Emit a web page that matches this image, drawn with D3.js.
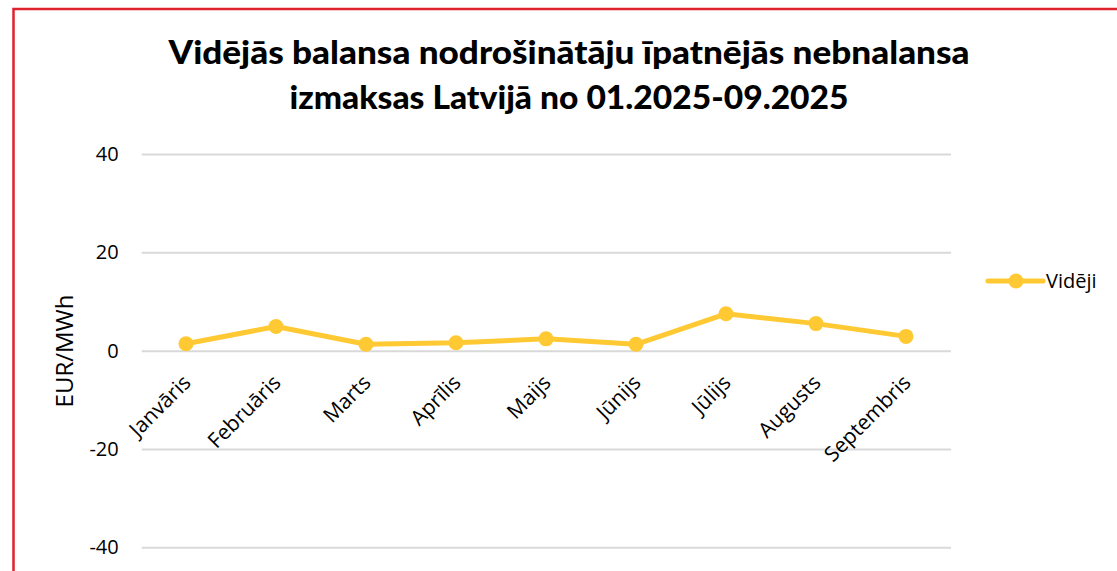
<!DOCTYPE html>
<html><head><meta charset="utf-8">
<script src="https://cdn.jsdelivr.net/npm/d3@7"></script>
<style>html,body{margin:0;padding:0;background:#fff;overflow:hidden}</style>
</head><body>
<svg id="c" width="1117" height="571"></svg>
<script>
const months = ["Janvāris","Februāris","Marts","Aprīlis","Maijs","Jūnijs","Jūlijs","Augusts","Septembris"];
const videji = [1.4, 4.9, 1.3, 1.6, 2.4, 1.3, 7.5, 5.5, 2.9];
const yTicks = [-40, -20, 0, 20, 40];
const titleLines = ["Vidējās balansa nodrošinātāju īpatnējās nebnalansa", "izmaksas Latvijā no 01.2025-09.2025"];
const seriesName = "Vidēji";
const yTitle = "EUR/MWh";

const svg = d3.select("#c");
const color = "#FFC934";
const font = "'Open Sans', sans-serif";

svg.append("rect").attr("x",13.5).attr("y",9).attr("width",1200).attr("height",700)
  .attr("fill","none").attr("stroke","#e0222c").attr("stroke-width",2.5);

const x = d3.scalePoint().domain(months).range([186, 906]);
const y = d3.scaleLinear().domain([-40, 40]).range([547.3, 154]);

// title
const tl = [{t:titleLines[0], y:63.5, w:801}, {t:titleLines[1], y:109, w:559}];
svg.selectAll("text.title").data(tl).join("text").attr("class","title")
  .attr("x",569).attr("y",d=>d.y).attr("text-anchor","middle")
  .attr("font-family","Lato, sans-serif").attr("font-weight","900").attr("font-size",31.5)
  .attr("fill","#000").attr("textLength",d=>d.w).attr("lengthAdjust","spacingAndGlyphs")
  .text(d=>d.t);

// grid
const yAxis = d3.axisLeft(y).tickValues(yTicks).tickSize(-(951-141.7)).tickPadding(23)
  .tickFormat(d => String(d));
const g = svg.append("g").attr("transform","translate(141.7,0)").call(yAxis);
g.select(".domain").remove();
g.selectAll(".tick line").attr("stroke","#d9d9d9").attr("stroke-width",2);
g.selectAll(".tick text").attr("font-family",font).attr("font-size",20).attr("fill","#000");

// x labels
svg.append("g").selectAll("text").data(months).join("text")
  .attr("transform",d=>`translate(${x(d)+6},384) rotate(-45)`)
  .attr("text-anchor","end").attr("font-family",font).attr("font-size",21).attr("fill","#000")
  .text(d=>d);

// y title
svg.append("text").attr("transform","translate(73,351) rotate(-90)").attr("text-anchor","middle")
  .attr("font-family",font).attr("font-size",24).attr("fill","#000").text(yTitle);

// line
const data = months.map((m,i)=>({m, v:videji[i]}));
svg.append("path").datum(data).attr("fill","none").attr("stroke",color).attr("stroke-width",5)
  .attr("stroke-linejoin","round")
  .attr("d", d3.line().x(d=>x(d.m)).y(d=>y(d.v)));
svg.append("g").selectAll("circle").data(data).join("circle")
  .attr("cx",d=>x(d.m)).attr("cy",d=>y(d.v)).attr("r",7.5).attr("fill",color);

// legend
const lg = svg.append("g");
lg.append("line").attr("x1",988).attr("x2",1043).attr("y1",281).attr("y2",281)
  .attr("stroke",color).attr("stroke-width",5).attr("stroke-linecap","round");
lg.append("circle").attr("cx",1016).attr("cy",281).attr("r",7.5).attr("fill",color);
lg.append("text").attr("x",1046).attr("y",288).attr("font-family",font).attr("font-size",20)
  .attr("fill","#000").text(seriesName);
</script>
</body></html>
